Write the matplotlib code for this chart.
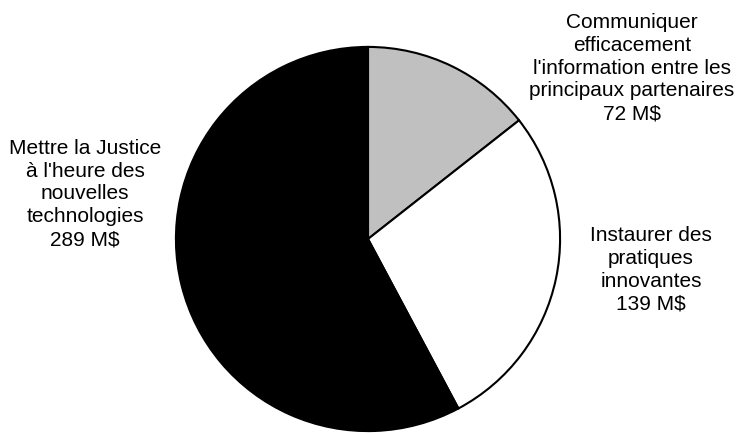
import matplotlib.pyplot as plt

# =========================
# Data
# =========================
labels = [
    "Communiquer\nefficacement\nl'information entre les\nprincipaux partenaires\n72 M$",
    "Instaurer des\npratiques\ninnovantes\n139 M$",
    "Mettre la Justice\nà l'heure des\nnouvelles\ntechnologies\n289 M$",
]
values = [72, 139, 289]
colors = ["#c0c0c0", "#ffffff", "#000000"]

# label centres in pixels (x, y from top)
label_pos = [(632, 68), (651, 270), (85, 194)]

# =========================
# Figure
# =========================
W, H = 740, 434
fig = plt.figure(figsize=(W / 100, H / 100), dpi=100)
cx, cy, r = 368, 239, 194
ax = fig.add_axes([(cx - r) / W, (H - cy - r) / H, 2 * r / W, 2 * r / H])

ax.pie(values, colors=colors, startangle=90, counterclock=False,
       radius=1, wedgeprops={"edgecolor": "black", "linewidth": 1.5})
ax.set_xlim(-1.01, 1.01)
ax.set_ylim(-1.01, 1.01)
ax.set_aspect("equal")
ax.axis("off")

for lab, (px, py) in zip(labels, label_pos):
    fig.text(px / W, 1 - py / H, lab, ha="center", va="center",
             multialignment="center", fontsize=15, linespacing=1.26,
             family="Liberation Sans", color="black")

plt.savefig("out.png", dpi=100)
